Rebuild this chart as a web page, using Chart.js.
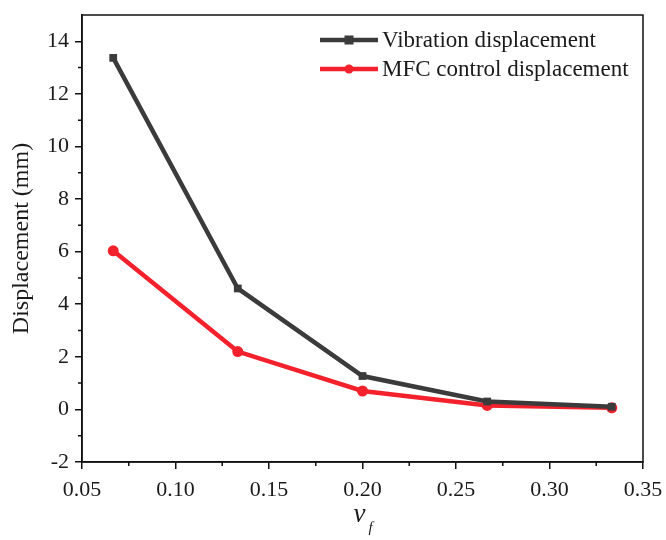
<!DOCTYPE html>
<html>
<head>
<meta charset="utf-8">
<script src="https://cdn.jsdelivr.net/npm/chart.js@4"></script>
<style>
  html, body { margin: 0; padding: 0; background: #fff; }
  #wrap { width: 666px; height: 540px; }
</style>
</head>
<body>
<div id="wrap"><canvas id="chart" width="666" height="540"></canvas></div>
<script>
// ==================== DATA ====================
const vfValues = [0.0667, 0.1333, 0.2, 0.2667, 0.3333];
const vibration = [13.37, 4.6, 1.27, 0.3, 0.1];
const mfcControl = [6.03, 2.2, 0.7, 0.15, 0.06];
const seriesLabels = ["Vibration displacement", "MFC control displacement"];
const xTicks = [0.05, 0.10, 0.15, 0.20, 0.25, 0.30, 0.35];
const yTicks = [-2, 0, 2, 4, 6, 8, 10, 12, 14];

const FONT = "'Liberation Serif', 'DejaVu Serif', serif";
const BLACK = "#3b3b3b";
const RED = "#f3212c";

// ==================== PLUGINS ====================
// frame + minor ticks
const framePlugin = {
  id: "frame",
  afterDraw(chart) {
    const { ctx, chartArea: a, scales } = chart;
    ctx.save();
    ctx.strokeStyle = "#111";
    ctx.lineWidth = 1.5;
    ctx.strokeRect(a.left, a.top, a.right - a.left, a.bottom - a.top);
    ctx.beginPath();
    for (let i = 0; i < xTicks.length - 1; i++) {
      const px = scales.x.getPixelForValue((xTicks[i] + xTicks[i + 1]) / 2);
      ctx.moveTo(px, a.bottom);
      ctx.lineTo(px, a.bottom + 4);
    }
    for (let i = 0; i < yTicks.length - 1; i++) {
      const py = scales.y.getPixelForValue((yTicks[i] + yTicks[i + 1]) / 2);
      ctx.moveTo(a.left, py);
      ctx.lineTo(a.left - 4, py);
    }
    ctx.stroke();
    ctx.restore();
  }
};

// legend inside the plot + italic v_f axis title
const legendPlugin = {
  id: "innerLegend",
  afterDraw(chart) {
    const { ctx, chartArea: a } = chart;
    ctx.save();
    chart.data.datasets.forEach((ds, i) => {
      const y = 40 + i * 29;
      const x0 = 320, x1 = 378;
      ctx.strokeStyle = ds.borderColor;
      ctx.lineWidth = 4.5;
      ctx.beginPath();
      ctx.moveTo(x0, y);
      ctx.lineTo(x1, y);
      ctx.stroke();
      ctx.fillStyle = ds.borderColor;
      const cx = (x0 + x1) / 2;
      if (ds.pointStyle === "rect") {
        ctx.fillRect(cx - 4.5, y - 4.5, 9, 9);
      } else {
        ctx.beginPath();
        ctx.arc(cx, y, 4.5, 0, Math.PI * 2);
        ctx.fill();
      }
      ctx.fillStyle = "#1a1a1a";
      ctx.font = "23px " + FONT;
      ctx.textAlign = "left";
      ctx.textBaseline = "middle";
      ctx.fillText(ds.label, 382, y + 1);
    });
    // x axis title
    const cx = (a.left + a.right) / 2;
    ctx.fillStyle = "#1a1a1a";
    ctx.font = "italic 27px " + FONT;
    ctx.textAlign = "center";
    ctx.textBaseline = "alphabetic";
    ctx.fillText("v", cx - 3, 522);
    ctx.font = "italic 15px " + FONT;
    ctx.fillText("f", cx + 8, 532);
    ctx.restore();
  }
};

// ==================== CHART ====================
const toPoints = vals => vals.map((v, i) => ({ x: vfValues[i], y: v }));

new Chart(document.getElementById("chart").getContext("2d"), {
  type: "line",
  data: {
    datasets: [
      {
        label: seriesLabels[0],
        data: toPoints(vibration),
        borderColor: BLACK,
        backgroundColor: BLACK,
        borderWidth: 4.5,
        pointStyle: "rect",
        pointRadius: 5.5,
        pointBorderWidth: 0,
        tension: 0
      },
      {
        label: seriesLabels[1],
        data: toPoints(mfcControl),
        borderColor: RED,
        backgroundColor: RED,
        borderWidth: 4.5,
        pointStyle: "circle",
        pointRadius: 5.5,
        pointBorderWidth: 0,
        tension: 0
      }
    ]
  },
  options: {
    responsive: false,
    animation: false,
    layout: { padding: { left: 0, right: 23, top: 15, bottom: 0 } },
    plugins: {
      legend: { display: false },
      tooltip: { enabled: false }
    },
    scales: {
      x: {
        type: "linear",
        min: 0.05,
        max: 0.35,
        afterBuildTicks: s => { s.ticks = xTicks.map(v => ({ value: v })); },
        afterFit: s => { s.height = 78; s.paddingLeft = 0; s.paddingRight = 0; },
        ticks: {
          color: "#1a1a1a",
          font: { family: FONT, size: 22 },
          padding: 8,
          maxRotation: 0,
          callback: v => v.toFixed(2)
        },
        grid: { display: true, drawOnChartArea: false, drawTicks: true, tickLength: 7, color: "#111", lineWidth: 1.5 },
        border: { display: true, color: "#111", width: 1.5 }
      },
      y: {
        min: -2,
        max: 15,
        afterBuildTicks: s => { s.ticks = yTicks.map(v => ({ value: v })); },
        afterFit: s => { s.width = 82; s.paddingTop = 0; s.paddingBottom = 0; },
        title: {
          display: true,
          text: "Displacement (mm)",
          color: "#1a1a1a",
          font: { family: FONT, size: 24 },
          padding: { top: 7, bottom: 0 }
        },
        ticks: {
          color: "#1a1a1a",
          font: { family: FONT, size: 22 },
          padding: 6,
          callback: v => String(v)
        },
        grid: { display: true, drawOnChartArea: false, drawTicks: true, tickLength: 7, color: "#111", lineWidth: 1.5 },
        border: { display: true, color: "#111", width: 1.5 }
      }
    }
  },
  plugins: [framePlugin, legendPlugin]
});
</script>
</body>
</html>
